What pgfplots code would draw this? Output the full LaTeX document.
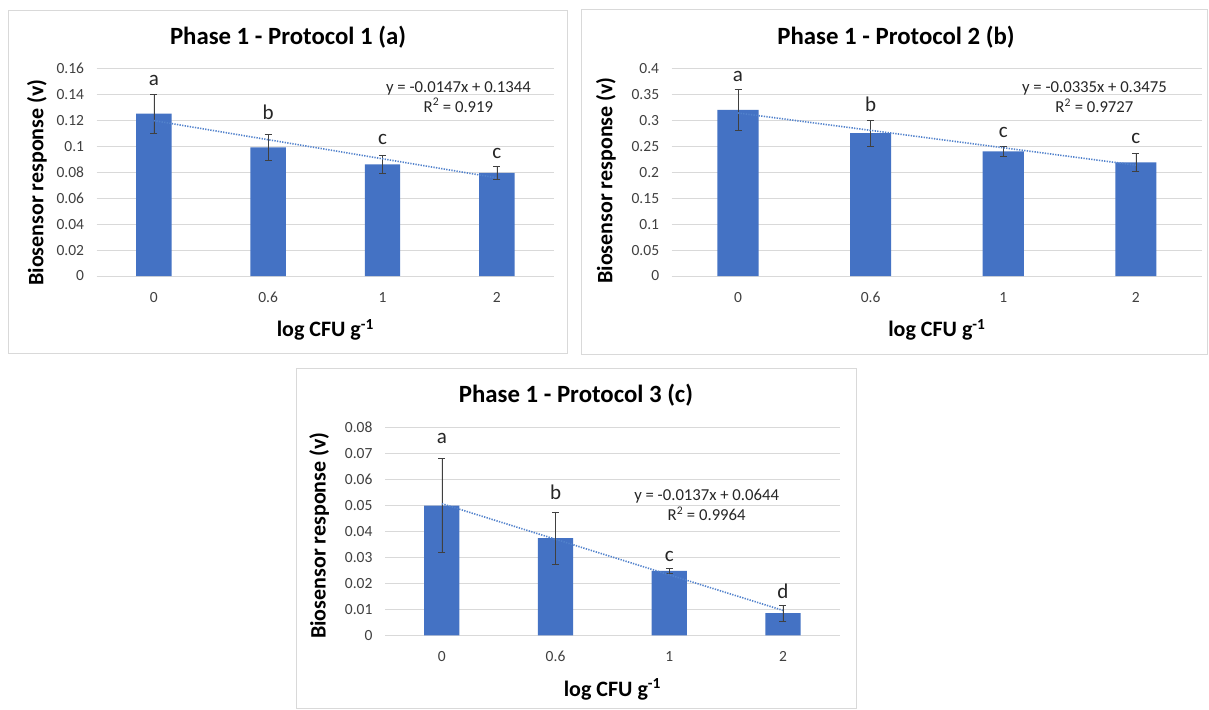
\documentclass[border=0pt]{standalone}
\usepackage{fontspec}
\setmainfont{Carlito}
\usepackage{pgfplots}
\pgfplotsset{compat=1.18}
\definecolor{barblue}{HTML}{4472C4}
\definecolor{trend}{HTML}{5282CC}
\definecolor{gridc}{HTML}{D9D9D9}
\definecolor{framec}{HTML}{D9D9D9}
\definecolor{tickc}{HTML}{404040}
\definecolor{txt}{HTML}{262626}

\tikzset{
  eq/.style={align=center, text=txt, font=\fontsize{16.7}{20}\selectfont},
  ttl/.style={font=\bfseries\fontsize{24.8}{30}\selectfont},
}
\pgfplotsset{
  panel/.style={
    scale only axis, height=207.7pt, anchor=south west,
    xmin=-0.5, xmax=3.5, ymin=0,
    xtick={0,1,2,3}, xticklabels={0,0.6,1,2},
    scaled y ticks=false,
    axis line style={draw=none}, major tick length=0pt,
    ymajorgrids, grid style={gridc, line width=0.8pt},
    tick label style={font=\fontsize{15.5}{18}\selectfont, text=tickc, inner sep=0pt},
    yticklabel style={anchor=east, xshift=-12.4pt},
    xticklabel style={anchor=center, yshift=-21.3pt},
    /pgf/number format/assume math mode=true,
    every axis x label/.style={at={(axis description cs:0.5,0)}, anchor=center, yshift=-54pt,
      font=\bfseries\fontsize{22}{26}\selectfont},
    every axis y label/.style={rotate=90, anchor=center,
      font=\bfseries\fontsize{22}{26}\selectfont},
    xlabel={log CFU g\textsuperscript{-1}},
    ylabel={Biosensor response (v)},
    clip=false,
  },
  bars/.style={ybar, bar width=0.31, draw=none, fill=barblue,
    error bars/.cd, y dir=both, y explicit,
    error bar style={color=tickc, line width=0.6pt},
    error mark options={rotate=90, mark size=3.5pt, line width=0.6pt, color=tickc}},
  trendl/.style={trend, line width=1.6pt, dash pattern=on 1.3pt off 1.3pt},
  letters/.style={draw=none, mark=none, nodes near coords, point meta=explicit symbolic,
    every node near coord/.style={anchor=base, inner sep=0pt, text=txt,
      font=\fontsize{21}{25}\selectfont}},
}

\begin{document}
\begin{tikzpicture}[x=1pt, y=1pt]
\useasboundingbox[fill=white] (0,0) rectangle (1209,-709);
\draw[framec, line width=0.8pt] (8.3,-10) rectangle (567.5,-353.3);
\draw[framec, line width=0.8pt] (581.7,-9.3) rectangle (1207,-354.3);
\draw[framec, line width=0.8pt] (296,-368.3) rectangle (856,-708.5);

\node[ttl] at (288,-36.7) {Phase 1 - Protocol 1 (a)};
\node[ttl] at (896,-36.7) {Phase 1 - Protocol 2 (b)};
\node[ttl] at (576,-394.7) {Phase 1 - Protocol 3 (c)};

% panel a
\begin{axis}[panel, at={(96.7pt,-276pt)}, width=457.3pt, ymax=0.16,
  ytick={0,0.02,0.04,0.06,0.08,0.1,0.12,0.14,0.16},
  yticklabels={0,0.02,0.04,0.06,0.08,0.1,0.12,0.14,0.16},
  every axis y label/.append style={at={(axis description cs:-0.1305,0.45)}}]
\addplot[bars] coordinates {
  (0,0.125) +- (0,0.015)
  (1,0.099) +- (0,0.0102)
  (2,0.086) +- (0,0.0072)
  (3,0.0795) +- (0,0.0053)};
\addplot[trendl] coordinates {(0,0.1197) (3,0.0756)};
\addplot[letters] coordinates {(0,0.1465)[a] (1,0.1203)[b] (2,0.1011)[c] (3,0.0909)[c]};
\node[eq] at (axis cs:2.664,0.1381) {y = -0.0147x + 0.1344\\R\textsuperscript{2} = 0.919};
\end{axis}

% panel b
\begin{axis}[panel, at={(671.7pt,-276pt)}, width=530.4pt, ymax=0.4,
  ytick={0,0.05,0.1,0.15,0.2,0.25,0.3,0.35,0.4},
  yticklabels={0,0.05,0.1,0.15,0.2,0.25,0.3,0.35,0.4},
  every axis y label/.append style={at={(axis description cs:-0.124,0.46)}}]
\addplot[bars] coordinates {
  (0,0.32) +- (0,0.04)
  (1,0.275) +- (0,0.0253)
  (2,0.24) +- (0,0.0096)
  (3,0.219) +- (0,0.017)};
\addplot[trendl] coordinates {(0,0.314) (3,0.2135)};
\addplot[letters] coordinates {(0,0.3748)[a] (1,0.3168)[b] (2,0.2658)[c] (3,0.2561)[c]};
\node[eq] at (axis cs:2.688,0.3438) {y = -0.0335x + 0.3475\\R\textsuperscript{2} = 0.9727};
\end{axis}

% panel c
\begin{axis}[panel, at={(385pt,-635.3pt)}, width=454.8pt, ymax=0.08,
  ytick={0,0.01,0.02,0.03,0.04,0.05,0.06,0.07,0.08},
  yticklabels={0,0.01,0.02,0.03,0.04,0.05,0.06,0.07,0.08},
  every axis y label/.append style={at={(axis description cs:-0.1447,0.48)}}]
\addplot[bars] coordinates {
  (0,0.05) +- (0,0.018)
  (1,0.0374) +- (0,0.0101)
  (2,0.0248) +- (0,0.0011)
  (3,0.0085) +- (0,0.0031)};
\addplot[trendl] coordinates {(0,0.0507) (3,0.0096)};
\addplot[letters] coordinates {(0,0.0739)[a] (1,0.0523)[b] (2,0.0286)[c] (3,0.0141)[d]};
\node[eq] at (axis cs:2.329,0.0503) {y = -0.0137x + 0.0644\\R\textsuperscript{2} = 0.9964};
\end{axis}
\end{tikzpicture}
\end{document}
